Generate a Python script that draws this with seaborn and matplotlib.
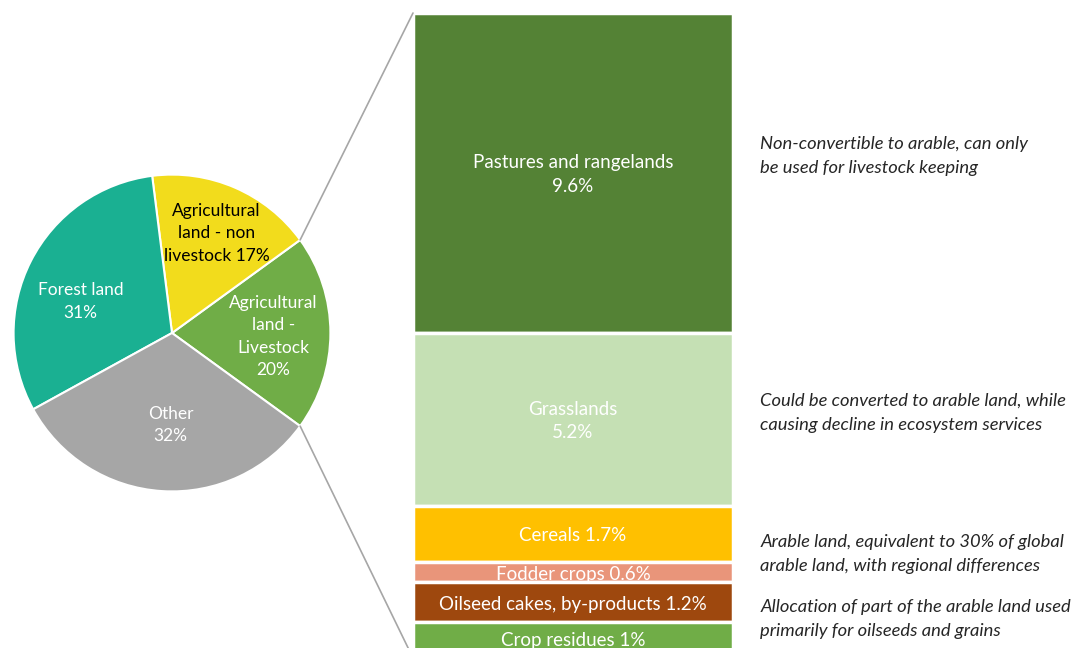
import numpy as np
import pandas as pd
import matplotlib
matplotlib.use("Agg")
import matplotlib.pyplot as plt
from matplotlib.patches import ConnectionPatch
import seaborn as sns

# land use shares (% of global land)
pie_labels = ["Agricultural\nland -\nLivestock\n20%", "Agricultural\nland - non\nlivestock 17%",
              "Forest land\n31%", "Other\n32%"]
pie_values = [20, 17, 31, 32]
pie_colors = ["#70AD47", "#F2DC1C", "#1AB092", "#A6A6A6"]
pie_text_colors = ["white", "black", "white", "white"]

# breakdown of livestock land, top to bottom
bar_labels = ["Pastures and rangelands\n9.6%", "Grasslands\n5.2%", "Cereals 1.7%",
              "Fodder crops 0.6%", "Oilseed cakes, by-products 1.2%", "Crop residues 1%"]
bar_values = [9.6, 5.2, 1.7, 0.6, 1.2, 1.0]
bar_colors = ["#548235", "#C5E0B4", "#FFC000", "#E9957A", "#9E480E", "#70AD47"]

notes = ["Non-convertible to arable, can only\nbe used for livestock keeping",
         "Could be converted to arable land, while\ncausing decline in ecosystem services",
         "Arable land, equivalent to 30% of global\narable land, with regional differences",
         "Allocation of part of the arable land used\nprimarily for oilseeds and grains"]
note_y = [4.3, 12.0, 16.25, 18.2]

sns.set_style("white")
plt.rcParams['font.family'] = ['Lato', 'DejaVu Sans']

fig = plt.figure(figsize=(10.71, 6.48), dpi=100)

# pie on the left
ax_pie = fig.add_axes([12 / 1071, 155 / 648, 320 / 1071, 320 / 648])
wedges, _ = ax_pie.pie(pie_values, colors=pie_colors, startangle=-36, counterclock=True,
                       wedgeprops=dict(edgecolor="white", linewidth=1.5))
# label placement (radius, angle) inside each wedge
label_pos = [(0.64, -2), (0.69, 66), (0.61, 161), (0.58, 269)]
for lab, tc, (r, ang) in zip(pie_labels, pie_text_colors, label_pos):
    a = np.deg2rad(ang)
    ax_pie.text(r * np.cos(a), r * np.sin(a), lab, ha="center", va="center",
                color=tc, fontsize=12.5, linespacing=1.5)
ax_pie.set_xlim(-1.01, 1.01)
ax_pie.set_ylim(-1.01, 1.01)
ax_pie.axis("off")

# stacked bar on the right
df = pd.DataFrame({"label": bar_labels, "value": bar_values, "color": bar_colors})
df["bottom"] = df["value"].cumsum() - df["value"]
ax_bar = fig.add_axes([413 / 1071, 0, 320 / 1071, 635 / 648])
for i, row in df.iterrows():
    ax_bar.bar(0, row["value"], bottom=row["bottom"], width=1.0, color=row["color"],
               edgecolor="white", linewidth=2.5, zorder=i + 1)
    ax_bar.text(0, row["bottom"] + row["value"] / 2 + 0.05, row["label"], ha="center", va="center",
                color="white", fontsize=13.5, linespacing=1.45, zorder=i + 1.5)
ax_bar.set_xlim(-0.5, 0.5)
ax_bar.set_ylim(19.07, 0)
ax_bar.axis("off")

for txt, y in zip(notes, note_y):
    ax_bar.text(1.085, y, txt, transform=ax_bar.get_yaxis_transform(), ha="left", va="center",
                fontsize=13.2, style="italic", linespacing=1.65, clip_on=False)

# connector lines from the livestock wedge to the bar
lw = wedges[0]
for ang, yb in [(lw.theta2, 0), (lw.theta1, 19.07 + 0.3)]:
    a = np.deg2rad(ang)
    con = ConnectionPatch(xyA=(np.cos(a), np.sin(a)), coordsA=ax_pie.transData,
                          xyB=(-0.5, yb), coordsB=ax_bar.transData,
                          color="#A6A6A6", linewidth=1.2)
    fig.add_artist(con)

fig.savefig("out.png", dpi=100)
